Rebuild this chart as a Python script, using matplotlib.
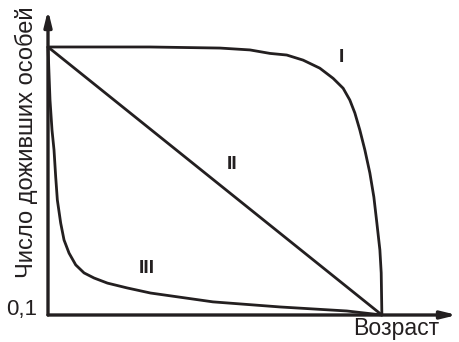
import matplotlib
matplotlib.use('Agg')
import matplotlib.pyplot as plt

# survivorship curves, age scaled to 0..1, survivors scaled to 0..1
age_I = [0, 0.305, 0.515, 0.605, 0.665, 0.715, 0.764, 0.814, 0.854, 0.884, 0.904,
         0.919, 0.934, 0.949, 0.964, 0.976, 0.985, 0.994, 0.998, 1.0]
surv_I = [1.0, 1.0, 0.996, 0.989, 0.976, 0.970, 0.951, 0.921, 0.883, 0.846, 0.802,
          0.754, 0.690, 0.616, 0.530, 0.440, 0.343, 0.243, 0.157, 0.0]

age_II = [0, 1.0]
surv_II = [1.0, 0.0]

age_III = [0, 0.006, 0.012, 0.018, 0.023, 0.028, 0.038, 0.048, 0.063, 0.083, 0.108,
           0.138, 0.178, 0.237, 0.307, 0.494, 0.695, 0.895, 1.0]
surv_III = [1.0, 0.802, 0.690, 0.616, 0.516, 0.429, 0.343, 0.280, 0.231, 0.187, 0.157,
            0.138, 0.119, 0.101, 0.082, 0.049, 0.030, 0.015, 0.0]

curve_labels = ["I", "II", "III"]
label_pos = [(0.880, 0.961), (0.551, 0.560), (0.296, 0.172)]

ink = "#231f20"
plt.rcParams['font.family'] = ['Liberation Sans', 'DejaVu Sans']

fig = plt.figure(figsize=(4.59, 3.42), dpi=100)
ax = fig.add_axes([48 / 459, 27 / 342, 409 / 459, 305 / 342])
ax.set_xlim(0, 1.225)
ax.set_ylim(0, 1.138)
ax.axis('off')

# axes with arrows
arrow = dict(arrowstyle='-|>,head_length=0.9,head_width=0.22', color=ink, lw=2.4,
             shrinkA=0, shrinkB=0)
ax.annotate('', xy=(1.225, 0), xytext=(0, 0), arrowprops=arrow, annotation_clip=False)
ax.annotate('', xy=(0, 1.138), xytext=(0, 0), arrowprops=arrow, annotation_clip=False)

for xs, ys in [(age_I, surv_I), (age_II, surv_II), (age_III, surv_III)]:
    ax.plot(xs, ys, color=ink, lw=2.0, solid_capstyle='round',
            solid_joinstyle='round', clip_on=False)

for lab, (lx, ly) in zip(curve_labels, label_pos):
    ax.text(lx, ly, lab, fontsize=14, fontweight='bold', color=ink,
            ha='center', va='center')

fig.text(33 / 459, 1 - 142 / 342, "Число доживших особей", rotation=90,
         rotation_mode='anchor', fontsize=17, color=ink,
         ha='center', va='baseline')
fig.text(396 / 459, 1 - 329 / 342, "Возраст", fontsize=16.6, color=ink,
         ha='center', va='center')
fig.text(22 / 459, 1 - 310 / 342, "0,1", fontsize=16, color=ink,
         ha='center', va='center')

fig.savefig("out.png", dpi=100)
